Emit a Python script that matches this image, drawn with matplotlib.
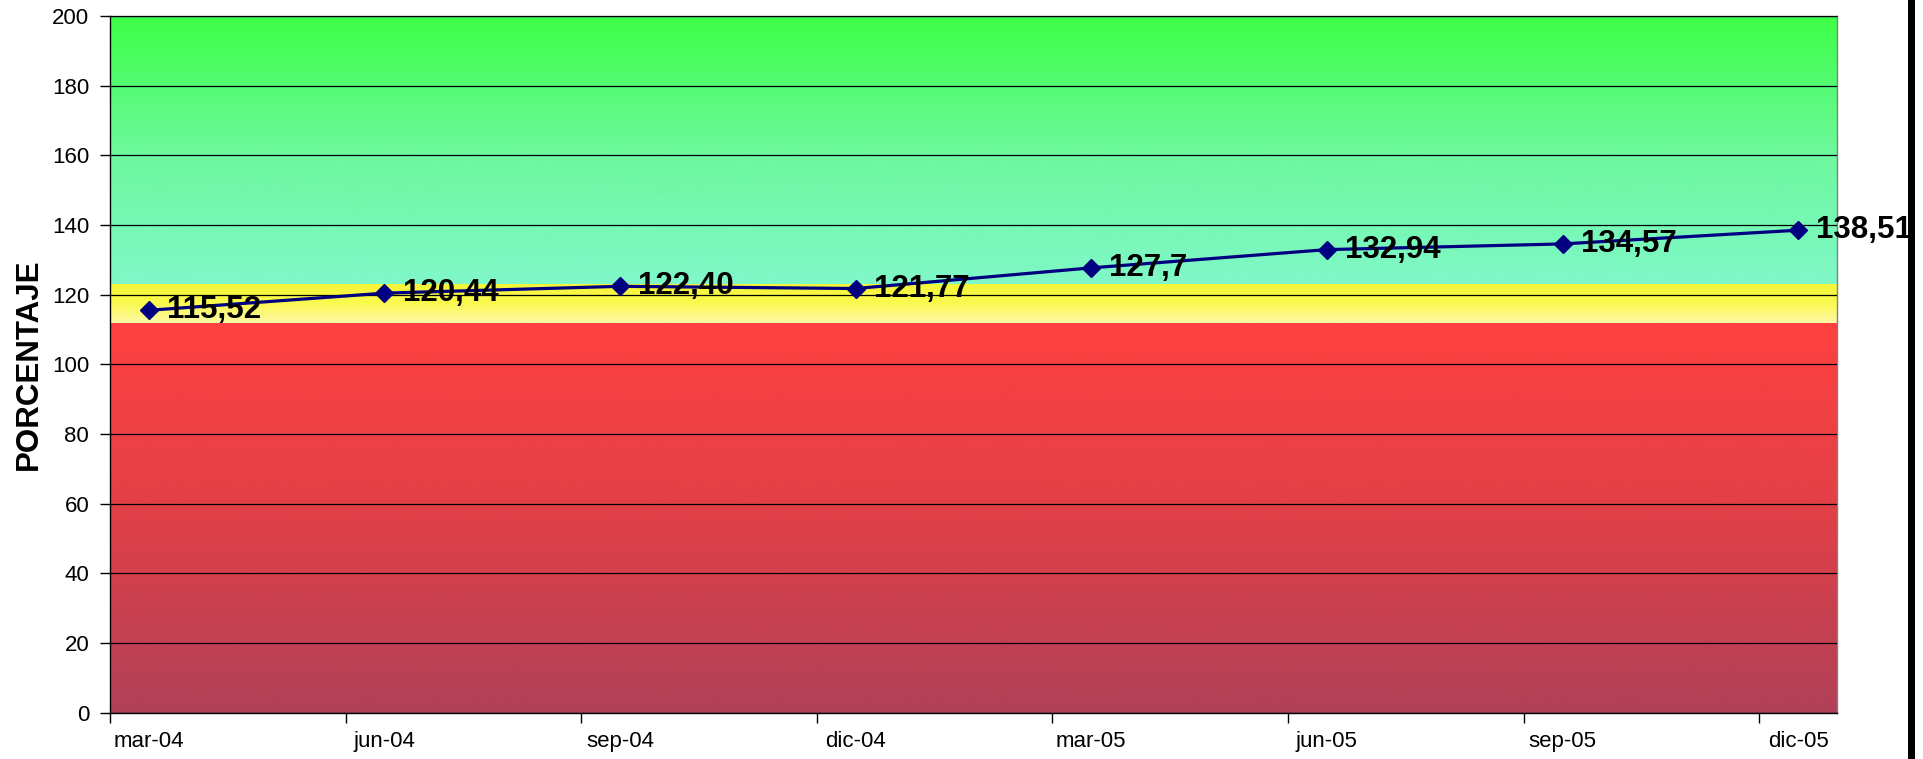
import numpy as np
import matplotlib
matplotlib.use('Agg')
import matplotlib.pyplot as plt
from matplotlib.colors import LinearSegmentedColormap
from matplotlib.patches import Rectangle

# Datos
periodos = ['mar-04', 'jun-04', 'sep-04', 'dic-04', 'mar-05', 'jun-05', 'sep-05', 'dic-05']
porcentaje = [115.52, 120.44, 122.40, 121.77, 127.7, 132.94, 134.57, 138.51]
etiquetas = ['115,52', '120,44', '122,40', '121,77', '127,7', '132,94', '134,57', '138,51']

# Zonas de fondo (rojo / amarillo / verde)
limites_zonas = [0, 112, 123, 200]
colores_zonas = [['#B04058', '#E04048', '#FF4040'],   # rojo: abajo -> arriba
                 ['#FFF8A8', '#FAFA50', '#F5F53A'],   # amarillo
                 ['#80F8C8', '#6CF89C', '#3CFF46']]   # verde

plt.rcParams['font.family'] = ['Liberation Sans', 'DejaVu Sans']

fig = plt.figure(figsize=(19.23, 7.59), dpi=100)
ax = fig.add_axes([110 / 1923, 1 - 712.7 / 759, (1837 - 110) / 1923, (712.7 - 16) / 759])

desfase = 0.165  # los puntos caen a mitad de mes
x = np.arange(len(periodos)) + desfase
x_max = 7.33

# Fondos con degradado vertical
for (y0, y1), cols in zip(zip(limites_zonas[:-1], limites_zonas[1:]), colores_zonas):
    cmap = LinearSegmentedColormap.from_list('z', cols)
    grad = np.linspace(0, 1, 256).reshape(-1, 1)
    ax.imshow(grad, cmap=cmap, origin='lower', aspect='auto',
              extent=[0, x_max, y0, y1], zorder=0, interpolation='bicubic')

ax.set_xlim(0, x_max)
ax.set_ylim(0, 200)

# Rejilla horizontal
ax.set_yticks(np.arange(0, 201, 20))
ax.yaxis.grid(True, color='black', linewidth=0.9, zorder=1)
ax.set_axisbelow(False)

# Serie
ax.plot(x, porcentaje, color='#000080', linewidth=2.3, marker='D', markersize=9.5,
        markerfacecolor='#000080', markeredgecolor='#000080', zorder=3)

for xi, yi, txt in zip(x, porcentaje, etiquetas):
    ax.annotate(txt, (xi, yi), xytext=(13, 0), textcoords='offset points',
                ha='left', va='center', fontsize=22.5, fontweight='bold',
                color='black', zorder=4, annotation_clip=False)

# Ejes
ax.set_xticks(np.arange(len(periodos)))
ax.set_xticklabels([])
ax.set_xticks(x, minor=True)
ax.set_xticklabels(periodos, minor=True, fontsize=16)
ax.tick_params(axis='x', which='major', direction='out', length=7, width=1, color='black')
ax.tick_params(axis='x', which='minor', length=0, pad=13)
ax.tick_params(axis='y', direction='out', length=7, width=1, labelsize=16, pad=8)

ax.set_ylabel('PORCENTAJE', fontsize=22.5, fontweight='bold', labelpad=6)

ax.spines['left'].set_color('black')
ax.spines['bottom'].set_color('black')
ax.spines['top'].set_color('#404040')
ax.spines['right'].set_color('#808080')
for s in ax.spines.values():
    s.set_linewidth(1.0)

# Barra negra vertical a la derecha
fig.patches.append(Rectangle((1908 / 1923, 0), 7 / 1923, 1, transform=fig.transFigure,
                             facecolor='black', edgecolor='none'))

fig.savefig('out.png', dpi=100)
